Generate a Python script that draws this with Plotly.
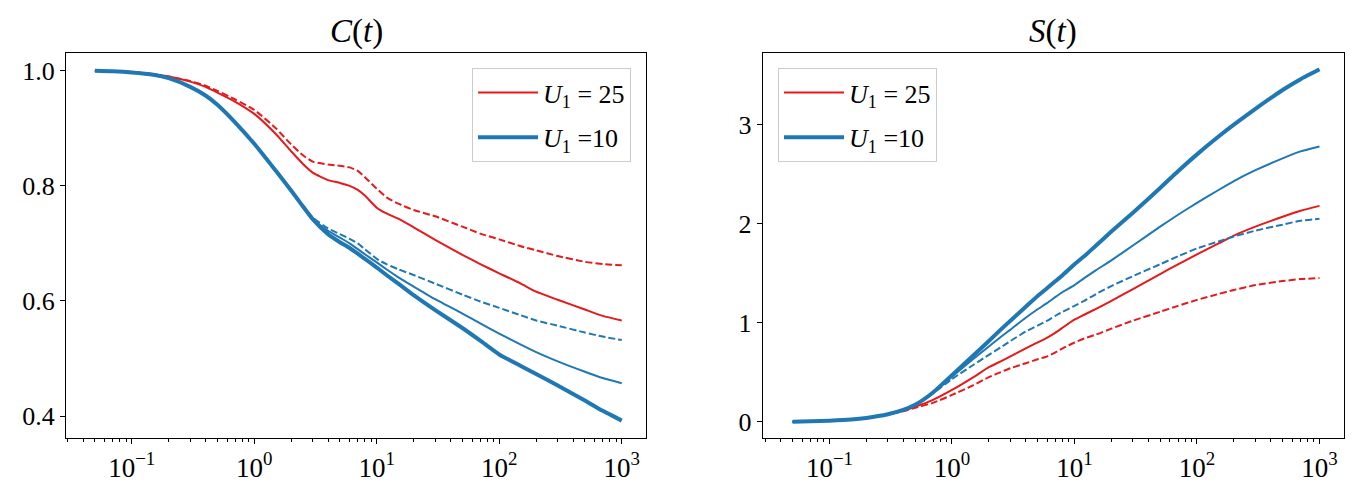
import plotly.graph_objects as go

# ---- data ----
t = [0.05, 0.07, 0.1, 0.15, 0.2, 0.3, 0.4, 0.5, 0.7, 1, 1.5, 2, 2.5, 3, 4, 5, 6, 7, 8, 10, 12, 15, 20,
     30, 50, 70, 100, 150, 200, 300, 500, 700, 1000]

C_red_solid = [1.0, 0.999, 0.998, 0.994, 0.990, 0.981, 0.972, 0.962, 0.946, 0.925, 0.890, 0.860, 0.838,
               0.823, 0.810, 0.805, 0.800, 0.793, 0.783, 0.762, 0.752, 0.743, 0.728, 0.706, 0.680, 0.664,
               0.648, 0.630, 0.616, 0.602, 0.585, 0.574, 0.566]
C_red_dash = [1.0, 0.999, 0.998, 0.994, 0.990, 0.982, 0.974, 0.965, 0.950, 0.932, 0.900, 0.872, 0.853,
              0.842, 0.837, 0.835, 0.832, 0.826, 0.815, 0.795, 0.780, 0.769, 0.758, 0.747, 0.729, 0.717,
              0.707, 0.695, 0.688, 0.678, 0.668, 0.664, 0.662]
C_blue_thick = [1.0, 0.999, 0.997, 0.993, 0.987, 0.972, 0.957, 0.941, 0.910, 0.873, 0.826, 0.792, 0.764,
                0.742, 0.716, 0.702, 0.692, 0.682, 0.673, 0.658, 0.645, 0.630, 0.610, 0.584, 0.553, 0.531,
                0.507, 0.487, 0.473, 0.453, 0.427, 0.409, 0.392]
C_blue_thin = [1.0, 0.999, 0.997, 0.993, 0.987, 0.972, 0.957, 0.941, 0.910, 0.873, 0.826, 0.792, 0.764,
               0.742, 0.722, 0.710, 0.700, 0.690, 0.681, 0.667, 0.655, 0.641, 0.625, 0.603, 0.578, 0.561,
               0.543, 0.524, 0.511, 0.495, 0.477, 0.466, 0.457]
C_blue_dash = [1.0, 0.999, 0.997, 0.993, 0.987, 0.972, 0.957, 0.941, 0.910, 0.873, 0.826, 0.793, 0.766,
               0.745, 0.726, 0.716, 0.708, 0.700, 0.690, 0.673, 0.664, 0.655, 0.645, 0.630, 0.611, 0.599,
               0.588, 0.575, 0.566, 0.557, 0.545, 0.538, 0.532]

S_red_solid = [0.0, 0.003, 0.010, 0.022, 0.038, 0.075, 0.110, 0.150, 0.220, 0.32, 0.45, 0.55, 0.61,
               0.66, 0.74, 0.80, 0.85, 0.90, 0.95, 1.03, 1.08, 1.14, 1.22, 1.34, 1.49, 1.59,
               1.69, 1.80, 1.88, 1.97, 2.07, 2.13, 2.18]
S_red_dash = [0.0, 0.003, 0.010, 0.022, 0.038, 0.075, 0.105, 0.140, 0.190, 0.27, 0.37, 0.45, 0.50,
              0.54, 0.59, 0.63, 0.66, 0.70, 0.74, 0.80, 0.84, 0.88, 0.94, 1.02, 1.11, 1.17,
              1.23, 1.29, 1.33, 1.38, 1.42, 1.44, 1.45]
S_blue_thick = [0.0, 0.003, 0.010, 0.022, 0.038, 0.075, 0.118, 0.170, 0.295, 0.470, 0.670, 0.815, 0.93,
                1.02, 1.16, 1.27, 1.35, 1.42, 1.48, 1.59, 1.67, 1.78, 1.92, 2.11, 2.36, 2.53,
                2.70, 2.88, 3.00, 3.16, 3.35, 3.46, 3.56]
S_blue_thin = [0.0, 0.003, 0.010, 0.022, 0.038, 0.075, 0.118, 0.170, 0.290, 0.455, 0.635, 0.76, 0.855,
               0.93, 1.05, 1.135, 1.20, 1.26, 1.31, 1.38, 1.45, 1.53, 1.63, 1.78, 1.97, 2.09,
               2.21, 2.34, 2.43, 2.54, 2.66, 2.73, 2.78]
S_blue_dash = [0.0, 0.003, 0.010, 0.022, 0.038, 0.075, 0.118, 0.170, 0.285, 0.43, 0.575, 0.675, 0.75,
               0.815, 0.91, 0.97, 1.02, 1.07, 1.11, 1.17, 1.22, 1.29, 1.37, 1.47, 1.59, 1.67,
               1.75, 1.82, 1.87, 1.93, 1.99, 2.03, 2.05]

legend_labels = ["<i>U</i><sub>1</sub> = 25", "<i>U</i><sub>1</sub> =10"]
titles = ["<i>C</i>(<i>t</i>)", "<i>S</i>(<i>t</i>)"]
xtick_vals = [0.1, 1, 10, 100, 1000]
xtick_text = ["10<sup>\u22121</sup>", "10<sup>0</sup>", "10<sup>1</sup>", "10<sup>2</sup>", "10<sup>3</sup>"]

RED = "#e41a1c"
BLUE = "#1f77b4"
FONT = "Liberation Serif"
W, H = 1367, 495

fig = go.Figure()


def add(y, color, width, dash, xa, ya, name=None, legend=None, group=None):
    fig.add_trace(go.Scatter(
        x=t, y=y, mode="lines",
        line=dict(color=color, width=width, dash=dash, shape="spline", smoothing=0.5),
        xaxis=xa, yaxis=ya, name=name or "", showlegend=name is not None,
        legend=legend or "legend", legendgroup=group, hoverinfo="skip"))


DASH = "7px,3px"
# left panel
add(C_red_solid, RED, 2, "solid", "x", "y", legend_labels[0], "legend", "a")
add(C_red_dash, RED, 2, DASH, "x", "y")
add(C_blue_dash, BLUE, 2, DASH, "x", "y")
add(C_blue_thin, BLUE, 2, "solid", "x", "y")
add(C_blue_thick, BLUE, 4, "solid", "x", "y", legend_labels[1], "legend", "b")
# right panel
add(S_red_solid, RED, 2, "solid", "x2", "y2", legend_labels[0], "legend2", "c")
add(S_red_dash, RED, 2, DASH, "x2", "y2")
add(S_blue_dash, BLUE, 2, DASH, "x2", "y2")
add(S_blue_thin, BLUE, 2, "solid", "x2", "y2")
add(S_blue_thick, BLUE, 4, "solid", "x2", "y2", legend_labels[1], "legend2", "d")

ydom = [1 - 438 / H, 1 - 53 / H]
xdom1 = [66 / W, 646 / W]
xdom2 = [762.7 / W, 1344 / W]

common_x = dict(type="log", showline=True, linecolor="black", linewidth=1.2, mirror=True,
                ticks="outside", ticklen=5, tickwidth=1, tickcolor="black",
                tickvals=xtick_vals, ticktext=xtick_text, showgrid=False, zeroline=False,
                tickfont=dict(family=FONT, size=27, color="black"),
                minor=dict(ticks="outside", ticklen=3, tickwidth=0.8, tickcolor="black", dtick="D1", showgrid=False))
common_y = dict(showline=True, linecolor="black", linewidth=1.2, mirror=True,
                ticks="outside", ticklen=5, tickwidth=1, tickcolor="black",
                showgrid=False, zeroline=False,
                tickfont=dict(family=FONT, size=26, color="black"))

leg_common = dict(yanchor="top", bgcolor="rgba(255,255,255,0.8)", bordercolor="#cccccc", borderwidth=1,
                  font=dict(family=FONT, size=26, color="black"), itemwidth=60, tracegroupgap=8)

fig.update_layout(
    width=W, height=H, margin=dict(l=0, r=0, t=0, b=0),
    plot_bgcolor="white", paper_bgcolor="white",
    xaxis=dict(domain=xdom1, range=[-1.537, 3.198], anchor="y", **common_x),
    yaxis=dict(domain=ydom, range=[0.3618, 1.0308], anchor="x", tickvals=[0.4, 0.6, 0.8, 1.0],
               ticktext=["0.4", "0.6", "0.8", "1.0"], **common_y),
    xaxis2=dict(domain=xdom2, range=[-1.545, 3.2], anchor="y2", **common_x),
    yaxis2=dict(domain=ydom, range=[-0.165, 3.724], anchor="x2", tickvals=[0, 1, 2, 3],
                ticktext=["0", "1", "2", "3"], **common_y),
    legend=dict(x=631 / W, y=1 - 68 / H, xanchor="right", **leg_common),
    legend2=dict(x=778 / W, y=1 - 68 / H, xanchor="left", **leg_common),
    showlegend=True,
)

for title, dom in zip(titles, [xdom1, xdom2]):
    fig.add_annotation(text=title, x=(dom[0] + dom[1]) / 2, y=1 - 32 / H, xref="paper", yref="paper",
                       xanchor="center", yanchor="middle", showarrow=False,
                       font=dict(family=FONT, size=33, color="black"))

fig.write_html("out.html")
